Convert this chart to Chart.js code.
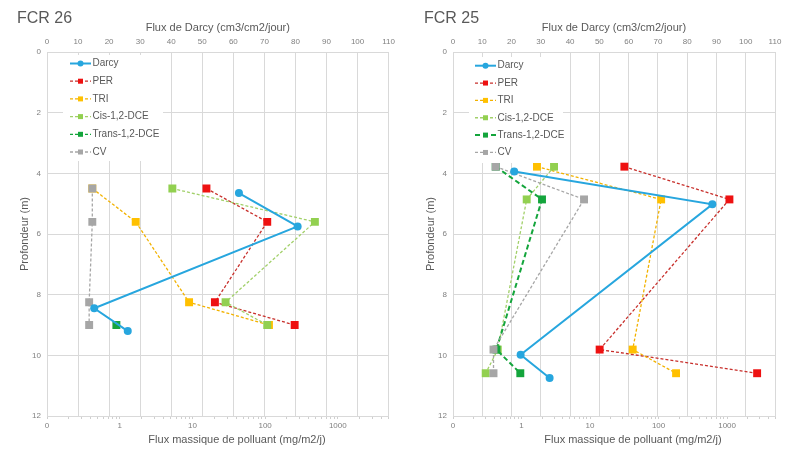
<!DOCTYPE html>
<html>
<head>
<meta charset="utf-8">
<script src="https://cdn.jsdelivr.net/npm/chart.js@4.4.0/dist/chart.umd.min.js"></script>
<style>
  html, body { margin: 0; padding: 0; background: #fff; }
  #wrap { display: flex; width: 800px; height: 456px; }
  canvas { display: block; }
</style>
</head>
<body>
<div id="wrap">
  <canvas id="fcr26" width="400" height="456"></canvas>
  <canvas id="fcr25" width="400" height="456"></canvas>
</div>
<script>
// noms des séries
const seriesNames = ['Darcy', 'PER', 'TRI', 'Cis-1,2-DCE', 'Trans-1,2-DCE', 'CV'];

// axe du bas (log) : graduations principales et leurs libellés
const massTickValues = [0.1, 1, 10, 100, 1000];
const massTickLabels = ['0', '1', '10', '100', '1000'];

// FCR 26
const fcr26DarcyDepth = [4.65, 5.75, 8.45, 9.2];
const fcr26Darcy = [61.8, 80.7, 15.2, 26.0];
const fcr26Depth = [4.5, 5.6, 8.25, 9.0];
const fcr26PER = [15.6, 107, 20.4, 255];
const fcr26TRI = [0.42, 1.66, 9.0, 113];
const fcr26Cis = [5.3, 484, 28.6, 107];
const fcr26Trans = [null, null, null, 0.9];
const fcr26CV = [0.42, 0.42, 0.38, 0.38];

// FCR 25
const fcr25DarcyDepth = [3.94, 5.02, 9.98, 10.75];
const fcr25Darcy = [20.9, 88.6, 23.1, 33.0];
const fcr25Depth = [3.78, 4.86, 9.81, 10.59];
const fcr25PER = [31.7, 1081, 13.8, 2742];
const fcr25TRI = [1.68, 109, 41.9, 180];
const fcr25Cis = [2.98, 1.19, 0.45, 0.30];
const fcr25Trans = [0.42, 1.99, 0.43, 0.96];
const fcr25CV = [0.42, 8.17, 0.39, 0.39];

Chart.defaults.font.family = '"Liberation Sans", Arial, sans-serif';

const GRID = '#D9D9D9';
const TICK = '#808080';
const TEXT = '#595959';

function pts(depths, values) {
  return values.map((v, i) => ({ x: v, y: depths[i] })).filter(p => p.x !== null);
}

function sampleSet(label, depths, values, color, lineColor, order, width, dash) {
  return {
    label,
    data: pts(depths, values),
    xAxisID: 'xMass',
    borderColor: lineColor,
    borderWidth: width,
    borderDash: dash,
    pointStyle: 'rect',
    pointRadius: 5.6,
    pointBackgroundColor: color,
    pointBorderColor: color,
    pointBorderWidth: 0,
    fill: false,
    order
  };
}

function buildChart(id, d, lay) {
  const datasets = [
    {
      label: seriesNames[0],
      data: pts(d.darcyDepth, d.darcy),
      xAxisID: 'xTop',
      borderColor: '#27A6DE',
      borderWidth: 2,
      pointStyle: 'circle',
      pointRadius: 4,
      pointBackgroundColor: '#27A6DE',
      pointBorderColor: '#27A6DE',
      pointBorderWidth: 0,
      fill: false,
      order: 0
    },
    sampleSet(seriesNames[1], d.depth, d.per, '#EE1111', '#C8302C', 5, 1.3, [3, 2]),
    sampleSet(seriesNames[2], d.depth, d.tri, '#FFC000', '#F2B200', 4, 1.3, [3, 2]),
    sampleSet(seriesNames[3], d.depth, d.cis, '#92D050', '#A2D06A', 3, 1.3, [3, 2]),
    sampleSet(seriesNames[4], d.depth, d.trans, '#14A53C', '#14A53C', 2, lay.transWidth, lay.transDash),
    sampleSet(seriesNames[5], d.depth, d.cv, '#A6A6A6', '#A6A6A6', 1, 1.3, [3, 2])
  ];

  // titre, titre de l'axe du bas et légende dans la zone du graphe
  const decor = {
    id: 'decor',
    afterDraw(chart) {
      const ctx = chart.ctx;
      ctx.save();
      ctx.fillStyle = TEXT;
      ctx.textBaseline = 'middle';
      ctx.textAlign = 'left';
      ctx.font = '16px "Liberation Sans", Arial, sans-serif';
      ctx.fillText(d.title, lay.titleX, lay.titleY);

      ctx.textAlign = 'center';
      ctx.font = '11px "Liberation Sans", Arial, sans-serif';
      ctx.fillText('Flux massique de polluant (mg/m2/j)', lay.massTitleX, 440);

      ctx.fillStyle = '#fff';
      ctx.fillRect(lay.legendBox[0], lay.legendBox[1], lay.legendBox[2], lay.legendBox[3]);
      ctx.font = '10px "Liberation Sans", Arial, sans-serif';
      ctx.textAlign = 'left';
      chart.data.datasets.forEach((ds, i) => {
        const y = lay.legendY + i * lay.legendStep;
        const x0 = lay.legendX;
        ctx.strokeStyle = ds.borderColor;
        ctx.lineWidth = ds.borderWidth;
        ctx.setLineDash(ds.borderDash || []);
        ctx.beginPath();
        ctx.moveTo(x0, y);
        ctx.lineTo(x0 + 21, y);
        ctx.stroke();
        ctx.setLineDash([]);
        ctx.fillStyle = ds.pointBackgroundColor;
        if (ds.pointStyle === 'circle') {
          ctx.beginPath();
          ctx.arc(x0 + 10.5, y, 3, 0, Math.PI * 2);
          ctx.fill();
        } else {
          ctx.fillRect(x0 + 8, y - 2.5, 5, 5);
        }
        ctx.fillStyle = TEXT;
        ctx.fillText(ds.label, x0 + 22.5, y);
      });
      ctx.restore();
    }
  };

  return new Chart(document.getElementById(id), {
    type: 'line',
    data: { datasets },
    options: {
      responsive: false,
      animation: false,
      events: [],
      layout: { padding: { left: 0, right: lay.padRight, top: 0, bottom: 0 } },
      plugins: { legend: { display: false }, tooltip: { enabled: false } },
      scales: {
        y: {
          type: 'linear',
          position: 'left',
          reverse: true,
          min: 0,
          max: 12,
          ticks: { stepSize: 2, color: TICK, font: { size: 8 }, padding: 6 },
          grid: { color: GRID, drawTicks: false },
          border: { color: GRID },
          title: {
            display: true,
            text: 'Profondeur (m)',
            color: TEXT,
            font: { size: 11 },
            padding: { top: lay.yTitlePad, bottom: 0 }
          },
          afterFit: s => { s.width = lay.plotLeft; }
        },
        xTop: {
          type: 'linear',
          axis: 'x',
          position: 'top',
          min: 0,
          max: 110,
          ticks: { stepSize: 10, color: TICK, font: { size: 8 }, padding: 5, maxRotation: 0 },
          grid: { color: GRID, drawTicks: false },
          border: { color: GRID },
          title: {
            display: true,
            text: 'Flux de Darcy (cm3/cm2/jour)',
            color: TEXT,
            font: { size: 11 },
            padding: { top: 21, bottom: 0 }
          },
          afterFit: s => { s.height = 52; }
        },
        xMass: {
          type: 'logarithmic',
          axis: 'x',
          position: 'bottom',
          min: 0.1,
          max: 5000,
          afterBuildTicks: s => {
            const ticks = [];
            massTickValues.forEach(v => {
              ticks.push({ value: v, major: true });
              for (let k = 2; k <= 9; k++) {
                if (v * k <= 5000) ticks.push({ value: v * k });
              }
            });
            s.ticks = ticks;
          },
          ticks: {
            autoSkip: false,
            maxRotation: 0,
            color: TICK,
            font: { size: 8 },
            padding: 2,
            callback: v => {
              const i = massTickValues.indexOf(v);
              return i >= 0 ? massTickLabels[i] : '';
            }
          },
          grid: { drawOnChartArea: false, color: '#CFCFCF', tickLength: 3 },
          border: { color: GRID },
          afterFit: s => { s.height = 40; }
        }
      }
    },
    plugins: [decor]
  });
}

buildChart('fcr26', {
  title: 'FCR 26',
  darcyDepth: fcr26DarcyDepth, darcy: fcr26Darcy, depth: fcr26Depth,
  per: fcr26PER, tri: fcr26TRI, cis: fcr26Cis, trans: fcr26Trans, cv: fcr26CV
}, {
  plotLeft: 47, padRight: 8, yTitlePad: 18,
  titleX: 17, titleY: 18.5, massTitleX: 237,
  legendBox: [63, 55, 100, 106], legendX: 70, legendY: 63.5, legendStep: 17.7,
  transWidth: 1.3, transDash: [3, 2]
});

buildChart('fcr25', {
  title: 'FCR 25',
  darcyDepth: fcr25DarcyDepth, darcy: fcr25Darcy, depth: fcr25Depth,
  per: fcr25PER, tri: fcr25TRI, cis: fcr25Cis, trans: fcr25Trans, cv: fcr25CV
}, {
  plotLeft: 53, padRight: 25, yTitlePad: 24,
  titleX: 24, titleY: 19, massTitleX: 233,
  legendBox: [69, 57, 94, 106], legendX: 75, legendY: 65.7, legendStep: 17.35,
  transWidth: 2, transDash: [5, 3]
});
</script>
</body>
</html>
